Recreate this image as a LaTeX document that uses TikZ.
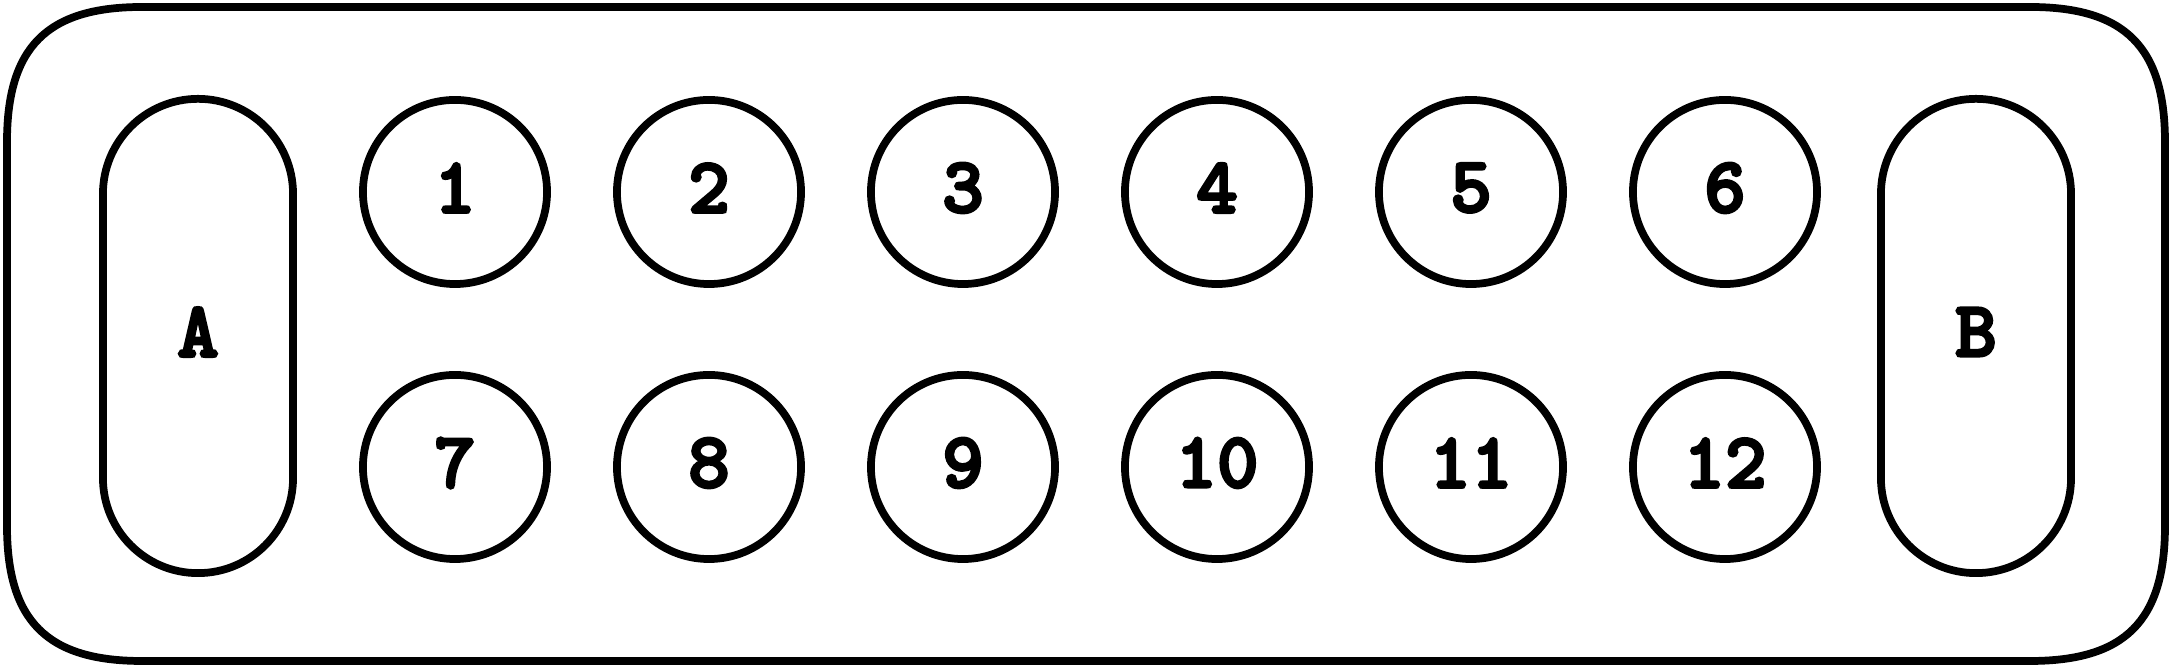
\documentclass[tikz,border=0pt]{standalone}
\usepackage{fontspec}
\newfontfamily\numfont{lmmonolt10-bold.otf}[FakeBold=3.5]
\begin{document}
\begin{tikzpicture}[x=0.01cm,y=-0.01cm,
  line width=2.2pt,
  lbl/.style={font=\numfont\fontsize{22.5}{24}\selectfont},
  seat/.style={draw,circle,minimum size=1.84cm,inner sep=0pt,lbl},
  pill/.style={draw,rectangle,rounded corners=0.95cm,minimum width=1.9cm,minimum height=4.74cm,inner sep=0pt,lbl}]
\useasboundingbox (0,0) rectangle (2171,668);
% outer frame
\def\E{135}\def\c{40}
\draw (7+\E,7) -- (2165-\E,7) .. controls (2165-\c,7) and (2165,7+\c) .. (2165,7+\E)
  -- (2165,661-\E) .. controls (2165,661-\c) and (2165-\c,661) .. (2165-\E,661)
  -- (7+\E,661) .. controls (7+\c,661) and (7,661-\c) .. (7,661-\E)
  -- (7,7+\E) .. controls (7,7+\c) and (7+\c,7) .. cycle;
% pills
\node[pill] (A) at (198,336) {};
\node[lbl] (Alab) at (198,332) {A};
\node[pill] (B) at (1976,336) {};
\node[lbl] (Blab) at (1976,332) {B};
% seats
\foreach \i [count=\k from 0] in {1,...,6}{
  \node[seat] (s\i) at (455+254*\k,192) {};
  \node[lbl] (t\i) at (455+254*\k,188) {\i};
}
\foreach \i [count=\k from 0] in {7,...,12}{
  \node[seat] (s\i) at (455+254*\k,467) {};
  \node[lbl] (t\i) at (455+254*\k,463) {\i};
}
\end{tikzpicture}
\end{document}
